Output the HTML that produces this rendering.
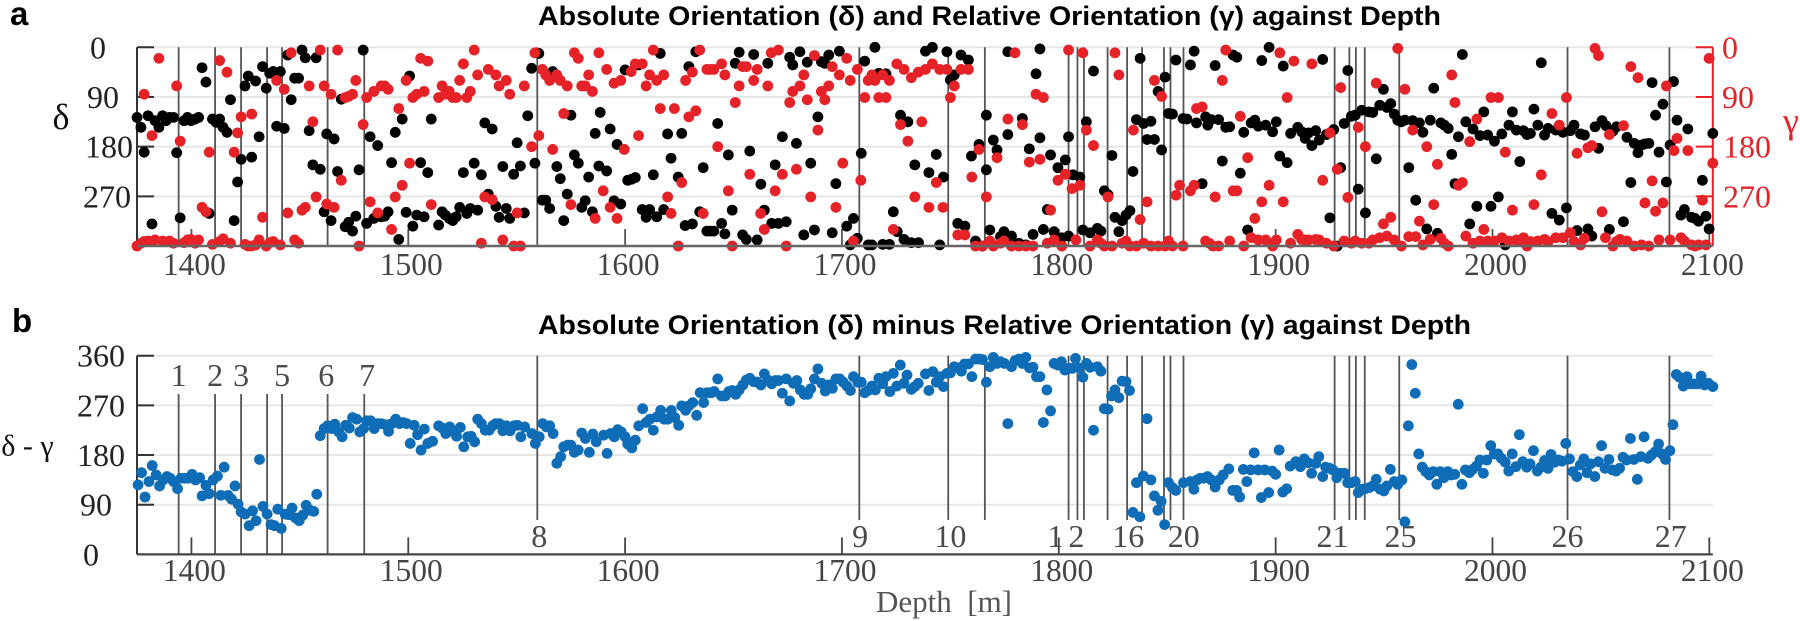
<!DOCTYPE html>
<html lang="en">
<head>
<meta charset="utf-8">
<title>Absolute and Relative Orientation against Depth</title>
<style>
html,body{margin:0;padding:0;background:#fff;width:1800px;height:621px;overflow:hidden}
svg{display:block}
text{font-family:"Liberation Serif","DejaVu Serif",serif}
.tick{font-size:32px;fill:#222;text-anchor:middle;dominant-baseline:central}
.xtick{font-size:31.5px;fill:#444;text-anchor:middle}
.mark{font-size:32px;fill:#4a4a4a;text-anchor:middle}
.rtick{font-size:32px;fill:#e42228;text-anchor:middle;dominant-baseline:central}
.title{font-family:"Liberation Sans",sans-serif;font-size:27px;font-weight:bold;fill:#000}
.letter{font-family:"Liberation Sans",sans-serif;font-size:33px;font-weight:bold;fill:#000}
</style>
</head>
<body>
<svg id="chart" xmlns="http://www.w3.org/2000/svg" width="1800" height="621" viewBox="0 0 1800 621">
  <text class="letter" x="10" y="25">a</text>
  <text class="letter" x="12" y="332">b</text>
  <text class="title" x="538" y="25" textLength="903" lengthAdjust="spacingAndGlyphs">Absolute Orientation (δ) and Relative Orientation (γ) against Depth</text>
  <text class="title" x="538" y="334" textLength="933" lengthAdjust="spacingAndGlyphs">Absolute Orientation (δ) minus Relative Orientation (γ) against Depth</text>
  <text x="61" y="117" font-size="36" fill="#111" text-anchor="middle" dominant-baseline="central">δ</text>
  <text x="1791" y="121" font-size="36" fill="#e42228" text-anchor="middle" dominant-baseline="central">γ</text>
  <text x="27.5" y="446" font-size="30" fill="#111" text-anchor="middle" dominant-baseline="central">δ - γ</text>
  <text x="944" y="612" font-size="31" fill="#555" text-anchor="middle" xml:space="preserve">Depth  [m]</text>
</svg>
<script>
const xTicks = [1400,1500,1600,1700,1800,1900,2000,2100];
const yTicks = [0,90,180,270];
const diffTicks = [360,270,180,90,0];
const eventDepths = [1394.1,1410.9,1422.9,1434.9,1441.8,1462.8,1479.7,1559.5,1708,1749,1765.9,1804.5,1808.6,1811.6,1822.5,1831.5,1838.4,1848.5,1851.5,1857.5,1927.2,1934,1937,1941.1,1957,2034.6,2081.6];
const upperEventLabels = ["1","2","3","5","6","7"];
const upperEventLabelDepths = [1394.1,1410.9,1422.9,1441.8,1462.2,1481];
const lowerEventLabels = ["8","9","10","12","16","20","21","25","26","27"];
const lowerEventLabelDepths = [1560.4,1708.4,1750,1804.4,1832,1857.6,1926.2,1957.6,2034.6,2082.2];

const blackDepths = [1374.9,1376.7,1378.2,1380,1381.8,1383.2,1385,1386.7,1388.3,1389.9,1391.7,1393.2,1394.8,1396.6,1398.2,1399.8,1401.7,1403.3,1404.9,1406.7,1408.2,1409.7,1411.4,1413,1414.6,1416.4,1418,1419.7,1421.3,1422.9,1424.7,1426.2,1427.8,1429.6,1431.2,1432.8,1434.5,1436.1,1437.7,1439.3,1441,1442.8,1444.4,1446,1447.6,1449.4,1451,1452.5,1454.3,1456,1457.5,1459.4,1461.2,1462.4,1464.4,1465.8,1467.4,1469.1,1470.9,1472.5,1474.3,1475.8,1477.3,1479.2,1480.8,1482.4,1484.1,1485.9,1487.5,1489.1,1490.7,1492.3,1494,1495.6,1497.2,1499,1500.6,1502.1,1503.9,1505.7,1507.3,1509,1510.6,1514,1515.6,1517.1,1518.9,1520.5,1522.1,1523.7,1525.4,1527,1528.6,1530.4,1532,1533.7,1535.3,1536.9,1538.7,1540.4,1541.9,1543.6,1545.2,1546.8,1548.6,1550.2,1551.7,1553.5,1555.1,1556.9,1558.4,1560.2,1561.8,1563.4,1565.2,1566.6,1568.5,1570.1,1571.7,1573.3,1575,1576.6,1578.4,1580,1581.6,1583.2,1584.9,1586.2,1587.9,1588.5,
1593.1,1596.3,1591.5,1594.9,1598,1600,1601.2,1603,1604.7,1606.2,1607.9,1609.7,1611.3,1613,1614.6,1616.2,1617.8,1619.6,1621.2,1624.5,1626.1,1627.7,1629.4,1631,1632.6,1634.4,1636,1637.7,1639.3,1640.9,1642.7,1644.5,1646,1647.6,1649.4,1650.8,1652.6,1654.2,1655.9,1657.5,1659.3,1660.9,1662.6,1664.2,1665.8,1667.6,1669.2,1670.7,1672.5,1674.3,1675.9,1677.3,1679,1680.6,1682.4,1684,1685.6,1687.3,1688.9,1690.5,1692.1,1693.9,1695.5,1697.2,1698.8,1702.2,1703.8,1705.3,1707.1,1708.9,1710.5,1712.1,1713.8,1715.2,1717,1718.8,1720.3,1721.9,1723.7,1725.5,1727,1728.6,1730.4,1732,1733.6,1735.3,1738.5,1740.1,1741.7,1743.5,1745.1,1746.8,1748.4,1750,1751.8,1753.4,1754.9,1756.7,1758.3,1759.7,1761.6,1763.2,1764.8,1766.6,1766.6,1768.2,1769.8,1771.5,1773.1,1774.7,1776.5,1776.5,1778.2,1781.6,1783.2,1784.8,1786.4,1788.1,1789.5,1791.3,1791.3,1792.9,1794.7,1796.2,1797.8,1799.6,1801.4,1803,1804.5,1804.5,1806.5,1809.7,1811.1,1812.7,1814.4,1816,1817.8,1819.4,1821,1822.7,1824.5,1825.9,1827.7,1829.2,1831,1832.8,1834.2,1835.8,1837.5,1839.1,1840.7,1842.5,1844.1,1845.8,1847.4,1849,1850.6,1852.4,1854,1857.3,1859.1,1860.7,1862.4,1863.5,
1866.1,1867.7,1868.7,1870.3,1872.1,1873.7,1875.4,1877,1878.8,1880.4,1882.1,1883.7,1885.3,1887.1,1888.7,1890.4,1892,1893.6,1895.4,1897,1898.6,1900.3,1901.9,1903.5,1905.3,1906.9,1910.2,1912,1913.6,1915.2,1916.7,1918.5,1920.1,1921.7,1923.4,1925,1926.8,1928.4,1930,1931.6,1933.3,1934.9,1936.7,1938.1,1939.7,1941.4,1943,1944.8,1946.4,1948,1949.7,1951.3,1953.1,1954.7,1956.3,1957.9,1959.6,1961.4,1963.2,1964.6,1966.3,1967.9,1969.7,1971.3,1972.9,1974.6,1976.2,1977.8,1979.6,1981.2,1982.7,1984.3,1986.1,1987.7,1989.5,1991,1992.8,1994.2,1996,1997.8,1999.3,2000.9,2002.7,2004.3,2005.9,2007.6,2009.2,2011,2012.6,2014.3,2015.9,2017.5,2019.1,2020.9,2022.5,2024,2025.6,2027.4,2029.2,2030.8,2032.5,2034.1,2035.9,2037.6,2039,2040.6,2042.4,2044,2045.8,2047.3,2048.9,2050.5,2052.3,2053.9,2055.5,2057.2,2060.4,2062,2063.8,2065.4,2067.1,2068.7,2070.3,2072.1,2073.6,2075.2,2076.8,2078.6,2080.2,2081.9,2083.5,2085.1,2086.9,2088.5,2090.1,2091.8,2093.4,2095,2096.8,2098.4,2099.9,2101.6];
const blackValues = [127,145,190,124,320,133,145,124,133,127,127,191,309,133,127,133,130,127,37,63,301,130,136,130,145,154,95,314,244,203,70,52,199,61,162,35,74,47,44,143,44,147,14,95,56,56,5,19,151,213,19,221,298,157,314,166,225,94,325,317,333,306,222,5,319,162,310,178,307,306,298,209,154,348,130,299,52,324,304,209,307,227,130,322,298,304,310,314,307,290,227,301,292,210,295,231,137,266,148,288,308,216,292,310,230,173,215,300,124,38,210,11,277,277,292,44,216,238,314,266,123,195,210,290,278,235,298,156,215,118,
148,176,224,278,284,41,241,239,236,32,294,308,294,231,307,11,294,157,201,235,156,323,35,320,8,298,218,333,333,333,138,319,338,195,295,29,9,340,348,188,13,349,248,295,29,319,213,319,162,316,18,32,174,8,340,27,210,331,126,26,29,14,336,247,7,324,358,310,346,192,25,358,358,0,47,357,48,357,298,334,123,348,135,354,213,354,7,227,0,194,358,235,8,59,50,319,14,324,23,197,351,176,360,222,123,331,168,186,343,334,8,158,342,355,129,358,184,339,48,3,164,330,294,195,334,218,345,204,162,342,231,235,331,135,336,43,328,333,260,267,196,308,334,314,304,296,225,131,20,138,167,134,167,80,186,54,120,121,23,129,130,32,7,137,
247,126,141,131,33,131,206,145,144,14,18,228,154,331,137,132,143,24,141,0,153,135,197,34,209,156,145,153,165,155,178,151,168,22,158,309,149,360,218,138,42,125,123,257,114,300,117,118,202,105,76,109,102,121,132,135,132,218,133,277,137,154,329,132,74,337,137,141,147,194,247,162,13,135,320,148,288,160,117,159,288,170,271,157,358,141,117,150,207,151,158,156,112,141,28,159,147,301,150,313,154,291,151,141,332,157,159,329,342,144,183,133,142,330,152,144,316,163,245,174,191,177,175,174,64,123,190,103,244,177,62,132,304,294,148,308,310,315,241,306,329,156];

const redDepths = [1374.9,1376.7,1378.2,1380,1381.8,1383.2,1386.7,1389.9,1391.7,1396.6,1398.2,1399.8,1401.7,1403.3,1409.7,1413,1414.6,1418,1424.7,1426.2,1427.8,1429.6,1431.2,1434.5,1436.1,1437.7,1441,1447.6,1449.4,1477.3,1492.3,1533.7,1543.6,1548.6,1551.7,
1378.2,1381.8,1385,1393.2,1394.8,1404.9,1406.7,1408.2,1413,1416.4,1419.7,1421.3,1422.9,1427.8,1432.8,1439.3,1442.8,1444.4,1446,1451,1452.5,1454.3,1456,1457.5,1459.4,1461.2,1462.4,1464.4,1465.8,1467.4,1469.1,1470.9,1472.5,1474.3,1475.8,1479.2,1480.8,1482.4,1484.1,1485.9,1487.5,1489.1,1490.7,1494,1495.6,1497.2,1499,1500.6,1502.1,1503.9,1505.7,1507.3,1509,1510.6,1514,1515.6,1517.1,1518.9,1520.5,1522.1,1523.7,1525.4,1527,1528.6,1530.4,1532,1535.3,1536.9,1538.7,1540.4,1541.9,1545.2,1546.8,1550.2,1553.5,1556.9,1558.4,1560.2,1561.8,1563.4,1565.2,1566.6,1568.5,1570.1,1571.7,1573.3,1575,1576.6,1578.4,1580,1581.6,1583.2,1584.9,1586.2,1587.9,
1589.9,1591.5,1593.1,1594.9,1596.3,1598,1599.6,1602.8,1604.7,1606.2,1607.9,1609.7,1611.3,1613,1614.6,1616.2,1617.8,1619.6,1621.2,1622.7,1624.5,1626.1,1627.9,1629.4,1631,1632.6,1634.4,1636,1637.7,1639.3,1640.9,1642.7,1644.5,1646,1647.6,1649.4,1650.8,1652.6,1654.2,1655.9,1657.5,1659.3,1660.9,1662.5,1664.2,1665.8,1667.4,1669.2,1670.7,1672.5,1674.3,1675.9,1677.3,1679,1680.6,1682.4,1684,1685.6,1687.3,1688.9,1690.5,1692.1,1693.9,1695.5,1697.2,1698.8,1700.4,1702.2,1703.8,1705.3,1707.1,1708.7,1710.5,1712.1,1713.8,1715.2,1717,1718.8,1720.3,1721.9,1723.7,1725.3,1727,1728.6,1730.4,1732,1733.6,1735.2,1736.8,1738.5,1740.1,1741.7,1743.5,1745.1,1746.6,1748.4,1750,1751.8,1753.4,1754.9,1756.7,1758.3,1759.9,1761.6,1763.2,1764.8,1766.6,1768.2,1769.8,1771.5,1773.1,1774.7,1776.5,1778.2,1779.8,1781.6,1783.2,1784.8,1786.4,1788.1,1789.5,1791.3,1792.9,1794.7,1796.2,1797.8,1799.6,1801.4,1803,1804.5,1806.1,1807.9,1809.7,1811.1,1812.7,1814.4,1816,1817.8,1819.4,1821,1822.7,1824.5,1825.9,1827.7,1829.2,1831,1832.8,1834.4,1835.8,1837.5,1839.1,1840.7,1842.5,1844.1,1845.8,1847.4,1849,1850.6,1852.4,1854.1,1855.7,1857.3,1860.7,1862.4,1863.5,
1866.1,1867.7,1869.4,1871,1872.1,1873.7,1875.4,1877,1878.8,1880.4,1882.1,1883.7,1885.3,1887.1,1888.7,1890.4,1892,1893.6,1895.4,1897,1898.6,1900.3,1901.9,1903.5,1905.3,1906.9,1908.4,1910.2,1912,1913.6,1915.2,1916.7,1918.5,1920.1,1921.7,1923.4,1925,1926.8,1928.4,1930,1931.6,1933.3,1934.9,1936.7,1938.1,1939.7,1941.4,1943,1944.8,1946.4,1948,1949.7,1951.3,1953.1,1954.7,1956.3,1958,1959.6,1961.4,1963.2,1964.6,1966.3,1967.9,1969.7,1971.3,1972.9,1974.6,1976.2,1977.8,1979.6,1981.2,1982.7,1984.3,1986.1,1987.7,1989.5,1991,1992.8,1994.2,1996,1997.8,1999.3,2000.9,2002.7,2004.3,2005.9,2007.6,2009.2,2011,2012.6,2014.3,2015.9,2017.5,2019.1,2020.9,2022.5,2024,2025.6,2027.4,2029.2,2030.8,2032.5,2034.1,2035.9,2037.6,2039,2040.6,2042.4,2044,2045.8,2047.3,2048.9,2050.5,2052.1,2053.9,2055.5,2057.2,2058.8,2060.4,2062,2063.8,2065.4,2067.1,2068.7,2070.3,2072.1,2073.6,2075.2,2076.8,2078.6,2080.2,2081.9,2083.7,2085.1,2086.9,2088.5,2090.1,2091.8,2093.4,2095,2096.8,2098.4,2099.9,2101.6];
const redValues = [360,355,352,351,352,349,351,351,355,354,349,348,355,349,357,352,347,355,357,360,360,358,349,360,354,352,358,349,355,360,330,355,349,360,360,
85,160,20,70,170,290,298,190,24,45,190,155,126,121,308,60,76,300,10,295,290,70,135,271,5,70,284,85,290,5,241,91,89,85,60,140,91,280,80,300,70,70,76,271,111,250,60,210,91,85,20,80,25,285,91,70,85,80,91,91,60,30,91,80,5,50,271,40,276,50,70,60,85,300,70,180,10,160,40,50,60,185,50,60,120,70,285,10,20,70,70,50,80,310,10,
260,40,290,65,310,60,185,44,30,160,30,70,50,5,60,111,50,271,301,111,360,245,60,126,45,115,5,301,40,40,40,180,30,50,260,360,100,70,35,35,230,60,40,301,330,70,10,260,5,230,360,100,80,221,70,50,95,271,15,150,80,95,70,35,290,50,210,20,60,351,40,241,91,60,50,60,91,50,91,60,330,30,140,40,170,55,271,45,135,40,290,30,245,40,290,40,91,70,340,40,340,40,235,360,185,360,271,351,360,200,355,351,130,360,10,360,140,360,208,360,85,203,91,355,295,349,241,360,230,5,256,349,250,10,150,360,178,349,355,360,271,360,10,50,355,351,360,150,360,312,355,280,360,60,360,89,360,351,360,268,250,360,260,250,111,
108,351,355,360,271,360,60,5,351,260,260,125,360,200,345,310,349,280,349,250,360,349,10,280,91,355,25,339,348,349,349,30,348,349,241,355,155,360,221,73,351,272,355,351,145,355,180,355,349,65,345,320,342,308,349,2,360,76,343,150,343,315,358,180,348,285,212,346,355,360,50,100,250,245,342,171,355,130,351,330,351,91,351,91,345,190,351,295,349,352,345,360,352,285,351,231,348,352,120,345,141,345,91,336,352,192,358,346,182,178,2,15,298,345,158,360,352,348,142,351,35,360,55,358,282,360,242,297,349,282,70,349,187,165,345,351,187,358,360,358,277,358,20,210];

const diffDepths = [1375.4,1377,1378.6,1380.4,1381.9,1383.7,1385.3,1386.9,1388.7,1390.2,1391.8,1393.6,1395.2,1396.8,1398.5,1400.3,1401.9,1403.8,1404.9,1406.7,1408.2,1410,1412,1413.5,1415.1,1416.9,1418.5,1420.1,1421.5,1422.9,1424.8,1426.6,1428.2,1429.8,1431.4,1433,1434.9,1436.7,1438.3,1439.8,1441.4,1443.2,1444.8,1446.4,1448,1449.7,1451.3,1452.9,1454.7,1456.4,1457.8,1459.4,1461.2,1462.8,1464.6,1466.1,1467.9,1469.5,1471.1,1472.8,1474.3,1476.2,1477.6,1479.4,1480.8,1482.6,1484.3,1485.9,1487.5,1489.3,1490.9,1492.4,1494.2,1496,1497.6,1499.2,1500.9,1502.7,1504.3,1505.9,1507.4,1509,1511.2,1514,1515.7,1517.3,1519.1,1520.7,1522.3,1524,1525.6,1527.4,1529,1530.6,1532,1533.7,1535.5,1537.3,1538.9,1540.3,1542,1543.6,1545.2,1547,1548.7,1550.3,1551.9,1553.7,1557,1558.6,1560.4,1562,1563.7,1565.2,1566.8,1568.5,1570.3,1571.7,1573.5,1575,1576.6,1578.4,1580,1581.7,1583.5,1585.1,1586.7,
1590.1,1591.7,1593.3,1595,1596.6,1598.2,1600,1601.2,1603.1,1604.7,1606.3,1608.1,1609.7,1611.4,1613,1614.6,1616.4,1618,1619.7,1621.3,1622.9,1624.7,1626.1,1627.9,1629.4,1631.2,1633,1634.6,1636.2,1637.9,1639.7,1641.1,1642.7,1644.5,1646.2,1647.8,1649.4,1651,1652.6,1654.3,1655.9,1657.5,1659.3,1660.9,1662.6,1664.2,1665.8,1667.6,1669.3,1670.7,1672.5,1674.3,1675.9,1677.6,1679.2,1680.8,1682.6,1684.2,1685.6,1687.3,1688.9,1690.7,1692.3,1694,1695.6,1697.2,1699,1700.6,1702.3,1703.9,1705.3,1707.3,1708.9,1710.5,1712.1,1713.8,1715.4,1717,1718.8,1720.3,1722.1,1723.7,1725.3,1726.9,1728.6,1730,1732,1733.6,1735.2,1738.5,1740.1,1741.9,1743.5,1745.1,1746.8,1748.4,1750,1751.8,1753.5,1755.1,1756.5,1758.3,1759.9,1761.6,1763.2,1764.8,1766.6,1768.2,1769.8,1771.5,1773.1,1774.9,1776.5,1778.2,1779.8,1781.6,1783.2,1784.8,1786.5,1788.1,1789.7,1791.3,1792.9,1794.5,1796.2,1797.8,1799.6,1801.2,1802.8,1804.5,1806.1,1807.7,1809.5,1811.1,1812.8,1814.4,1816,1817.8,1819.4,1821,1822.7,1824.3,1825.9,1827.7,1829.2,1831,1832.6,1834.2,1835.8,1837.4,1839,1840.7,1842.5,1844.1,1845.7,1847.2,1848.8,1850.6,1852.4,1854,1857.5,1860.7,1862.3,1863.8,
1865.2,1866.8,1868.6,1870.3,1872.1,1874,1875.8,1878.4,1880.2,1882,1883.4,1885.1,1886.7,1888.5,1890.1,1891.9,1893.4,1895,1896.8,1898.4,1900,1901.6,1903.3,1905.1,1906.7,1909.3,1911.4,1913.2,1915,1916.6,1918.5,1919.9,1921.7,1923.1,1924.9,1926.4,1928.2,1929.8,1931.7,1933.2,1934.9,1936.7,1938.1,1939.9,1941.4,1943.2,1944.8,1946.4,1948.2,1949.9,1951.3,1952.9,1954.7,1956.3,1958.2,1959.6,1961.2,1962.8,1964.4,1966,1967.6,1969.2,1970.9,1972.7,1974.3,1975.9,1977.6,1979.4,1981,1982.6,1984.2,1985.9,1987.5,1989.3,1990.9,1992.6,1994.2,1995.8,1997.4,1999.2,2000.8,2002.5,2004.1,2005.9,2007.5,2009.1,2010.8,2012.4,2014,2015.8,2017.3,2018.9,2020.7,2022.3,2024,2025.6,2027,2028.6,2030.4,2032,2033.8,2035.5,2037.1,2038.9,2040.5,2042.1,2043.6,2045.2,2047.2,2048.8,2050.3,2051.9,2053.7,2055.3,2057,2058.6,2060.2,2061.8,2063.6,2065.2,2066.8,2068.4,2069.9,2071.7,2073.3,2075.1,2076.6,2078.2,2079.8,2081.8,2083.2,2084.8,2086.2,2088,2089.7,2091.3,2092.9,2094.6,2096.2,2097.8,2099.6,2101.6];
const diffValues = [126,148,104,132,161,144,124,135,141,138,132,119,138,138,138,145,135,139,106,125,110,135,142,107,158,107,100,124,91,77,73,52,79,61,172,87,73,54,52,82,47,73,72,84,66,61,71,89,80,78,109,215,228,233,228,236,222,213,234,229,248,245,222,228,242,242,228,237,237,235,223,237,245,237,239,237,201,234,217,189,227,201,205,233,229,219,231,222,214,230,195,213,214,204,245,237,225,225,233,237,237,224,233,224,233,234,213,231,219,201,213,237,231,233,219,165,177,195,198,198,185,189,220,210,185,218,204,
216,183,219,213,226,222,213,200,193,207,233,264,239,245,225,249,261,245,245,261,248,234,269,261,269,275,252,293,275,293,293,295,318,287,287,295,297,290,298,307,316,319,313,312,307,327,316,309,315,315,292,318,278,310,315,298,290,290,300,318,336,310,296,307,301,318,318,312,305,297,322,312,312,293,297,305,298,319,309,322,295,328,305,343,310,325,299,304,310,327,297,331,312,322,304,328,329,340,338,332,345,345,322,354,354,353,312,340,357,346,349,346,237,340,351,354,346,357,338,339,322,322,239,298,260,346,343,349,334,337,337,355,338,321,346,339,225,340,332,264,263,287,298,284,314,313,297,76,130,68,142,246,135,106,80,96,54,130,121,116,130,132,118,135,
138,138,141,135,122,135,144,155,116,116,104,154,132,153,184,153,103,153,112,151,145,189,113,119,160,168,159,173,166,147,165,177,141,158,156,153,139,147,147,130,130,132,112,118,119,121,124,136,118,115,124,154,132,127,135,59,233,344,292,182,158,150,144,150,127,150,139,150,144,145,272,127,153,148,154,160,171,147,171,197,182,182,174,167,151,182,159,217,168,158,164,188,151,158,170,156,181,167,171,169,201,173,150,141,162,173,148,164,141,168,197,156,172,153,151,156,176,171,210,172,136,177,213,174,180,186,200,182,172,188,235,326,321,305,322,309,309,309,323,307,310,304];

const xStart = 1374.9, xEnd = 2101.6, pxLeft = 137, pxRight = 1712.8;
const topY0 = 47.3, topY360 = 246, botY360 = 355.7, botY0 = 554.4;
const markRadius = 5.4;
const NS = 'http://www.w3.org/2000/svg';
const svg = document.getElementById('chart');
function xScale(d){ return pxLeft + (d - xStart) * (pxRight - pxLeft) / (xEnd - xStart); }
function topScale(v){ return topY0 + v * (topY360 - topY0) / 360; }
function botScale(v){ return botY0 - v * (botY0 - botY360) / 360; }
function make(tag, attrs, text){
  const el = document.createElementNS(NS, tag);
  for (const k in attrs) el.setAttribute(k, attrs[k]);
  if (text !== undefined) el.textContent = text;
  svg.appendChild(el);
  return el;
}
function line(x1,y1,x2,y2,color,w){
  const el = make('line',{x1:x1,y1:y1,x2:x2,y2:y2,stroke:color,'stroke-width':w});
  return el;
}
function dots(depths, values, yFn, color, name){
  const n = Math.min(depths.length, values.length);
  for (let i = 0; i < n; i++){
    const c = make('circle',{cx:xScale(depths[i]),cy:yFn(values[i]),r:markRadius,fill:color});
    
    
  }
}

/* gridlines */
yTicks.forEach(function(v){
  const g = line(pxLeft, topScale(v), pxRight, topScale(v), '#e6e6e6', 2);
  
  
});
diffTicks.forEach(function(v){
  if (v === 0) return;
  const g = line(pxLeft, botScale(v), pxRight, botScale(v), '#e6e6e6', 2);
  
  
});

/* event lines */
eventDepths.forEach(function(d, i){
  const ex = xScale(d);
  const a = line(ex, topY0, ex, topY360, '#555', 1.8);
  
  
  const first = i < 7;
  const b = line(ex, first ? 394 : botY360, ex, first ? botY0 : 520, '#555', 1.8);
  
  
});

/* axes panel a */
const aLeft = line(pxLeft, topY0, pxLeft, topY360, '#333', 2);


const aRight = line(pxRight, topY0, pxRight, topY360, '#e42228', 2);


yTicks.forEach(function(v){
  const t = line(pxLeft, topScale(v), pxLeft + 17, topScale(v), '#333', 2);
  
  
  const r = line(pxRight - 17, topScale(v), pxRight, topScale(v), '#e42228', 2);
  
  
});
const aLeftCx = [98,103,109,107];
const aRightCx = [1730,1738,1747,1747];
yTicks.forEach(function(v, i){
  const l = make('text',{class:'tick',x:aLeftCx[i],y:topScale(v)},String(v));
  
  
  const r = make('text',{class:'rtick',x:aRightCx[i],y:topScale(v)},String(v));
  
  
});

/* axes panel b */
const bLeft = line(pxLeft, botY360, pxLeft, botY0, '#333', 2);


const bLeftCx = [101,101,101,96,91];
diffTicks.forEach(function(v, i){
  if (v !== 0){
    const t = line(pxLeft, botScale(v), pxLeft + 17, botScale(v), '#333', 2);
    
    
  }
  const l = make('text',{class:'tick',x:bLeftCx[i],y:botScale(v)},String(v));
  
  
});

/* x ticks and labels */
xTicks.forEach(function(d){
  const px = xScale(d);
  const a = line(px, topY360 - 17, px, topY360, '#555', 1.8);
  
  
  const b = line(px, botY0 - 17, px, botY0, '#444', 1.8);
  
  
  const la = make('text',{class:'xtick',x:px + 3,y:275},String(d));
  
  
  const lb = make('text',{class:'xtick',x:px + 3,y:581},String(d));
  
  
});

/* event labels */
upperEventLabels.forEach(function(t, i){
  const l = make('text',{class:'mark',x:xScale(upperEventLabelDepths[i]),y:386},t);
  
  
});
lowerEventLabels.forEach(function(t, i){
  const l = make('text',{class:'mark',x:xScale(lowerEventLabelDepths[i]),y:547},t);
  if (t === '12') l.setAttribute('letter-spacing', '5');
  
  
});

/* series */
dots(blackDepths, blackValues, topScale, '#000000', 'absolute-orientation-point');
dots(redDepths, redValues, topScale, '#e42228', 'relative-orientation-point');

/* bottom axis lines drawn over the lowest marks' base */
const aBase = line(pxLeft, topY360, pxRight, topY360, '#666', 2.4);


const bBase = line(pxLeft, botY0, pxRight, botY0, '#444', 2.2);



dots(diffDepths, diffValues, botScale, '#0e6db6', 'orientation-difference-point');
</script>
</body>
</html>
